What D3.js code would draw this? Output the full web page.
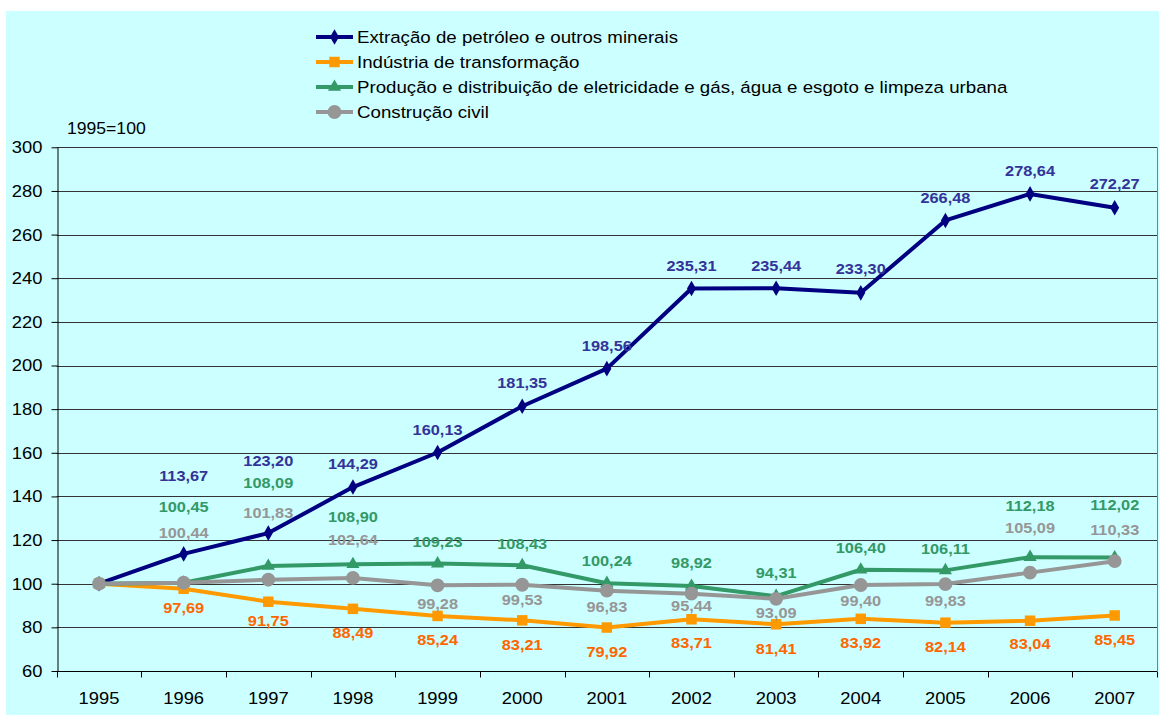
<!DOCTYPE html>
<html>
<head>
<meta charset="utf-8">
<script src="https://cdn.jsdelivr.net/npm/d3@7"></script>
<style>
  body { margin: 0; background: #fff; }
  svg { display: block; }
  text { font-family: Arial, "Liberation Sans", sans-serif; }
</style>
</head>
<body>
<div id="viz"></div>
<script>
// data (1995=100)
const years = ["1995", "1996", "1997", "1998", "1999", "2000", "2001", "2002", "2003", "2004", "2005", "2006", "2007"]
const extracao = [100, 113.67, 123.20, 144.29, 160.13, 181.35, 198.56, 235.31, 235.44, 233.30, 266.48, 278.64, 272.27]
const industria = [100, 97.69, 91.75, 88.49, 85.24, 83.21, 79.92, 83.71, 81.41, 83.92, 82.14, 83.04, 85.45]
const producao = [100, 100.45, 108.09, 108.90, 109.23, 108.43, 100.24, 98.92, 94.31, 106.40, 106.11, 112.18, 112.02]
const construcao = [100, 100.44, 101.83, 102.64, 99.28, 99.53, 96.83, 95.44, 93.09, 99.40, 99.83, 105.09, 110.33]
const yTicks = [60, 80, 100, 120, 140, 160, 180, 200, 220, 240, 260, 280, 300]

// label placement (pixels from the point, vertical), the chart has hand-moved labels
const extracaoDy = [null, -78, -72, -23, -23, -23, -23, -23, -22, -24, -23, -23, -24]
const industriaDy = [null, 19, 19, 24, 24, 24, 24, 23, 24, 24, 24, 23, 24]
const producaoDy = [null, -76, -83, -48, -22, -22, -22, -23, -23, -22, -22, -51, -53]
const construcaoDy = [null, -50, -67, -38, 18, 15, 16, 12, 14, 16, 17, -45, -31]

const series = [
  { name: "Extração de petróleo e outros minerais", values: extracao, dy: extracaoDy,
    line: "#000080", label: "#333399", marker: "diamond" },
  { name: "Indústria de transformação", values: industria, dy: industriaDy,
    line: "#FF9900", label: "#FF6600", marker: "square" },
  { name: "Produção e distribuição de eletricidade e gás, água e esgoto e limpeza urbana", values: producao, dy: producaoDy,
    line: "#339966", label: "#339966", marker: "triangle" },
  { name: "Construção civil", values: construcao, dy: construcaoDy,
    line: "#969696", label: "#969696", marker: "circle" }
]

const width = 1159, height = 715
const plot = { left: 56.7, right: 1157, top: 147.3, bottom: 671 }

// the original picture is a little wider than tall, text looks stretched
function stretch(sel, k) {
  sel.each(function () {
    const t = d3.select(this)
    const tx = +t.attr("x") || 0, ty = +t.attr("y") || 0
    t.attr("x", 0).attr("y", 0)
      .attr("transform", `translate(${tx},${ty}) scale(${k},1)`)
  })
}

const svg = d3.select("#viz").append("svg")
  .attr("width", width)
  .attr("height", height)

// background
svg.append("rect")
  .attr("x", 6).attr("y", 11)
  .attr("width", width - 6).attr("height", height - 11)
  .attr("fill", "#CCFFFF")

const x = d3.scaleBand().domain(years).range([plot.left, plot.right]).padding(0)
const y = d3.scaleLinear().domain([60, 300]).range([plot.bottom, plot.top])

const fmt = d3.formatLocale({ decimal: ",", thousands: ".", grouping: [3], currency: ["", ""] }).format(".2f")

// gridlines
svg.append("g")
  .selectAll("line")
  .data(yTicks.filter(d => d > 60))
  .join("line")
    .attr("x1", plot.left).attr("x2", plot.right)
    .attr("y1", d => Math.round(y(d)) + 0.5).attr("y2", d => Math.round(y(d)) + 0.5)
    .attr("stroke", "#333")
    .attr("stroke-width", 1)

// right border
svg.append("line")
  .attr("x1", Math.round(plot.right) + 0.5).attr("x2", Math.round(plot.right) + 0.5)
  .attr("y1", y(300)).attr("y2", plot.bottom)
  .attr("stroke", "#808080")

// y axis
const yAxis = svg.append("g")
  .attr("transform", `translate(${Math.round(plot.left) + 0.5},0)`)
  .call(d3.axisLeft(y).tickValues(yTicks).tickSize(6).tickPadding(9).tickSizeOuter(0))
yAxis.select(".domain").attr("stroke", "#000")
yAxis.selectAll(".tick line").attr("stroke", "#000")
yAxis.selectAll(".tick text")
  .attr("font-size", 17)
  .attr("font-family", "Arial, 'Liberation Sans', sans-serif")
  .attr("fill", "#000")
  .call(stretch, 1.08)

// x axis: ticks sit between categories
const xAxisG = svg.append("g")
  .attr("transform", `translate(0,${Math.round(plot.bottom) + 0.5})`)
xAxisG.append("line")
  .attr("x1", plot.left).attr("x2", plot.right)
  .attr("stroke", "#000")
const boundaries = years.map(d => x(d)).concat([plot.right])
xAxisG.selectAll(".xtick")
  .data(boundaries)
  .join("line")
    .attr("class", "xtick")
    .attr("x1", d => Math.round(d) + 0.5).attr("x2", d => Math.round(d) + 0.5)
    .attr("y1", 0).attr("y2", 6)
    .attr("stroke", "#000")
xAxisG.selectAll(".xlabel")
  .data(years)
  .join("text")
    .attr("class", "xlabel")
    .attr("x", d => x(d) + x.bandwidth() / 2)
    .attr("y", 27)
    .attr("dy", "0.35em")
    .attr("text-anchor", "middle")
    .attr("font-size", 17)
    .text(d => d)
    .call(stretch, 1.08)

// base note
svg.append("text")
  .attr("x", 67).attr("y", 128)
  .attr("dy", "0.35em")
  .attr("font-size", 16)
  .text("1995=100")
  .call(stretch, 1.1)

const cx = (d, i) => x(years[i]) + x.bandwidth() / 2

function markerPath(type) {
  if (type === "diamond") return d3.symbol(d3.symbolDiamond, 70)()
  if (type === "square") return d3.symbol(d3.symbolSquare, 110)()
  if (type === "triangle") return d3.symbol(d3.symbolTriangle, 75)()
  return d3.symbol(d3.symbolCircle, 150)()
}

const line = d3.line()
  .x(cx)
  .y(d => y(d))

// lines + markers
series.forEach(s => {
  const g = svg.append("g")
  g.append("path")
    .datum(s.values)
    .attr("d", line)
    .attr("fill", "none")
    .attr("stroke", s.line)
    .attr("stroke-width", 4)
    .attr("stroke-linejoin", "round")
  g.selectAll(".pt")
    .data(s.values)
    .join("path")
      .attr("class", "pt")
      .attr("transform", (d, i) => `translate(${cx(d, i)},${y(d)})`)
      .attr("d", markerPath(s.marker))
      .attr("fill", s.line)
})

// data labels
series.forEach(s => {
  svg.append("g")
    .selectAll("text")
    .data(s.values.map((v, i) => ({ v, i })).filter(d => s.dy[d.i] !== null))
    .join("text")
      .attr("x", d => cx(d.v, d.i))
      .attr("y", d => y(d.v) + s.dy[d.i])
      .attr("dy", "0.35em")
      .attr("text-anchor", "middle")
      .attr("font-size", 15)
      .attr("font-weight", "bold")
      .attr("fill", s.label)
      .text(d => fmt(d.v))
      .call(stretch, 1.09)
})

// legend
const legend = svg.append("g")
  .selectAll("g")
  .data(series)
  .join("g")
    .attr("transform", (d, i) => `translate(316,${37 + i * 25})`)
legend.append("line")
  .attr("x1", 0).attr("x2", 37)
  .attr("stroke", d => d.line)
  .attr("stroke-width", 4)
legend.append("path")
  .attr("transform", "translate(18.5,0)")
  .attr("d", d => markerPath(d.marker))
  .attr("fill", d => d.line)
legend.append("text")
  .attr("x", 41)
  .attr("dy", "0.35em")
  .attr("font-size", 17)
  .text(d => d.name)
  .call(stretch, 1.1)
</script>
</body>
</html>
